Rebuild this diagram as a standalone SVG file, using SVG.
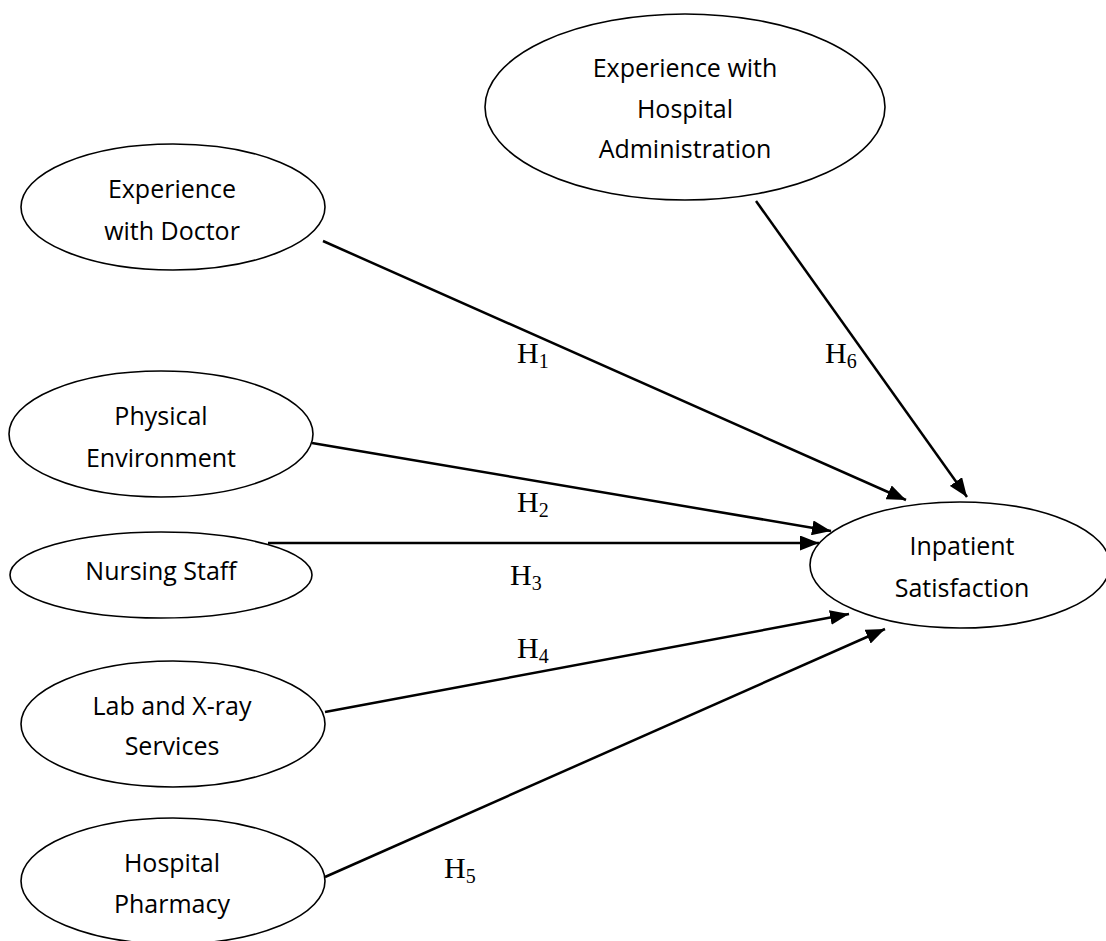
<svg xmlns="http://www.w3.org/2000/svg" width="1106" height="941" viewBox="0 0 1106 941">
<style>
.node ellipse{fill:#fff;stroke:#000;stroke-width:1.6}
.node text{font-family:"Open Sans","Noto Sans",sans-serif;font-size:25px;fill:#000;text-anchor:middle}
.conn line{stroke:#000;stroke-width:2.5;marker-end:url(#ah)}
.lbl{font-family:"Liberation Serif",serif;font-size:30px;fill:#000}
.lbl tspan.s{font-size:20px}
</style>
<defs>
<marker id="ah" markerUnits="userSpaceOnUse" viewBox="0 0 19 15" refX="19" refY="7.5" markerWidth="19" markerHeight="15" orient="auto">
<path d="M0,0 L19,7.5 L0,15 Z" fill="#000"/>
</marker>
</defs>
<g id="connectors" class="conn">
<line x1="323" y1="241" x2="906" y2="500"/>
<line x1="756" y1="201" x2="967" y2="497"/>
<line x1="312" y1="443" x2="831" y2="531"/>
<line x1="268" y1="543" x2="819" y2="543"/>
<line x1="325" y1="712" x2="849" y2="614"/>
<line x1="325" y1="877" x2="885" y2="629"/>
</g>
<g id="labels">
<text class="lbl" x="517" y="363">H<tspan class="s" dy="5">1</tspan></text>
<text class="lbl" x="825" y="363">H<tspan class="s" dy="5">6</tspan></text>
<text class="lbl" x="517" y="512">H<tspan class="s" dy="5">2</tspan></text>
<text class="lbl" x="510" y="585">H<tspan class="s" dy="5">3</tspan></text>
<text class="lbl" x="517" y="658">H<tspan class="s" dy="5">4</tspan></text>
<text class="lbl" x="444" y="878">H<tspan class="s" dy="5">5</tspan></text>
</g>
<g id="n-admin" class="node">
<ellipse cx="685" cy="107" rx="200" ry="93"/>
<text x="685" y="77">Experience with</text>
<text x="685" y="118">Hospital</text>
<text x="685" y="158">Administration</text>
</g>
<g id="n-doctor" class="node">
<ellipse cx="173" cy="207" rx="152" ry="63"/>
<text x="172" y="198">Experience</text>
<text x="172" y="240">with Doctor</text>
</g>
<g id="n-physical" class="node">
<ellipse cx="161" cy="434" rx="152" ry="63"/>
<text x="161" y="425">Physical</text>
<text x="161" y="467">Environment</text>
</g>
<g id="n-nursing" class="node">
<ellipse cx="161" cy="575" rx="151" ry="43"/>
<text x="161" y="580">Nursing Staff</text>
</g>
<g id="n-lab" class="node">
<ellipse cx="173" cy="724" rx="152" ry="63"/>
<text x="172" y="715">Lab and X-ray</text>
<text x="172" y="755">Services</text>
</g>
<g id="n-pharmacy" class="node">
<ellipse cx="173" cy="881" rx="152" ry="63"/>
<text x="172" y="872">Hospital</text>
<text x="172" y="913">Pharmacy</text>
</g>
<g id="n-satisfaction" class="node">
<ellipse cx="960" cy="565" rx="150" ry="63"/>
<text x="962" y="555">Inpatient</text>
<text x="962" y="597">Satisfaction</text>
</g>
</svg>
